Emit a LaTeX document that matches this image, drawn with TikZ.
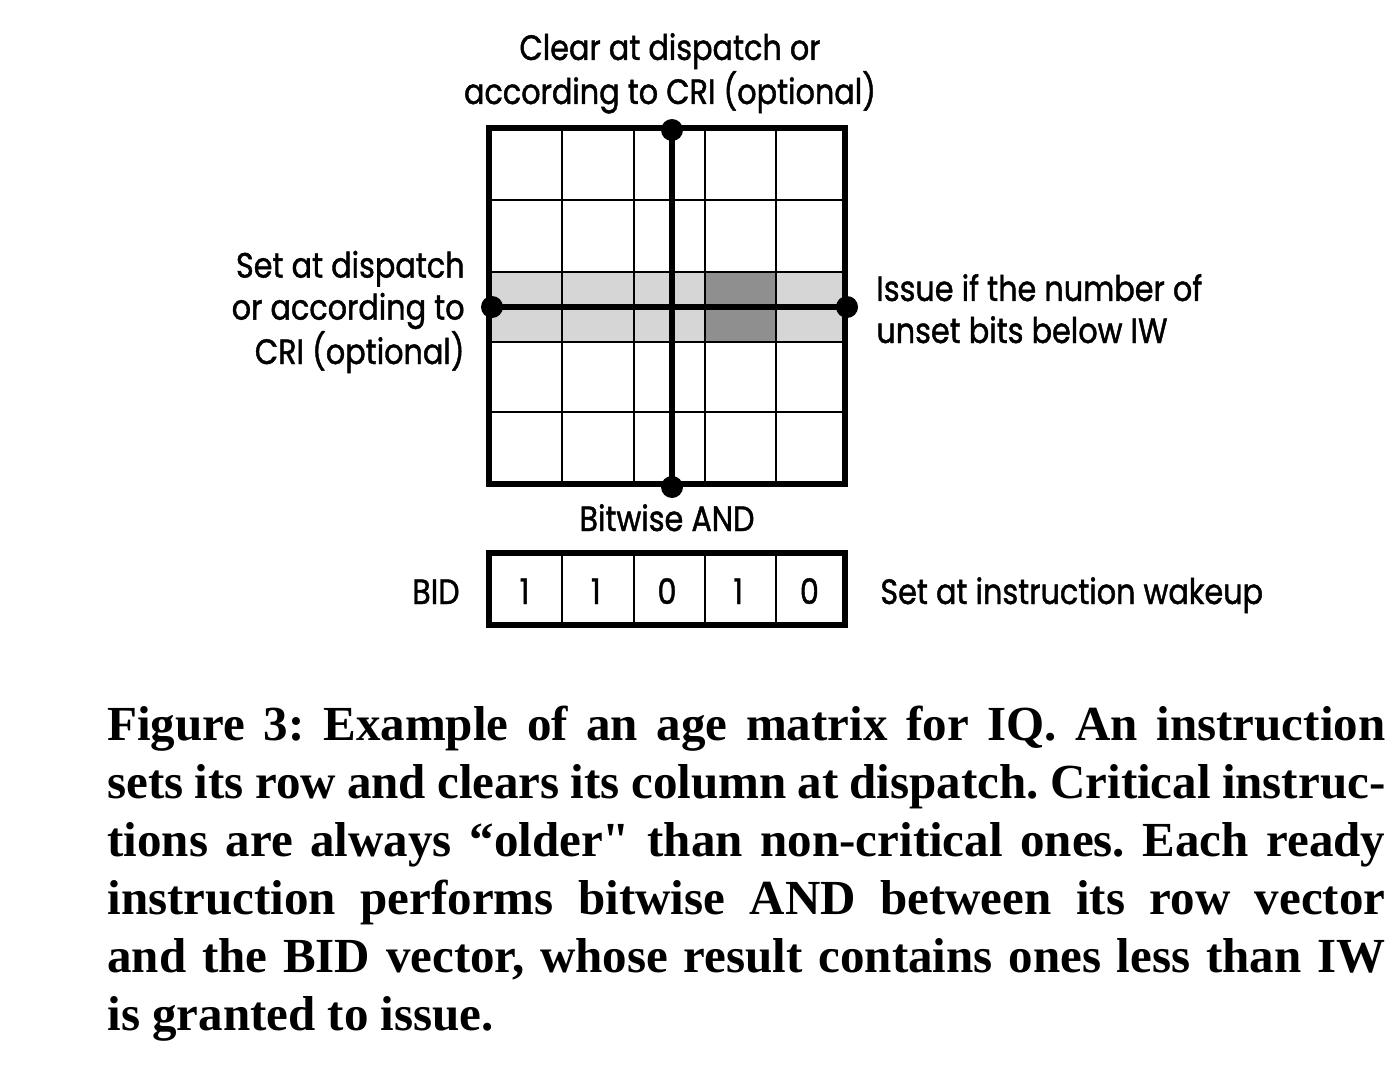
\documentclass[tikz,border=0pt]{standalone}
\usepackage{fontspec}
\setmainfont{Liberation Serif}[Ligatures=TeXOff]
\newfontfamily\lblfont[FakeStretch=0.86,FakeBold=1.2]{Poppins}
\usetikzlibrary{positioning}
\begin{document}
\begin{tikzpicture}[x=0.5pt,y=-0.5pt,
	lbl/.style={font=\lblfont\fontsize{17.6}{21}\selectfont,inner sep=0pt},
	cellline/.style={line width=1.4pt},
	frame/.style={line width=2.6pt},
	bus/.style={line width=2.6pt},
	dot/.style={circle,fill,inner sep=0pt,minimum size=11pt}]
	\useasboundingbox (0,0) rectangle (1398,1086);
	% row of the instruction
	\fill[black!16] (489,272) rectangle (845,342);
	\fill[black!44] (705,272) rectangle (776,342);
	% age matrix
	\foreach \x in {562,634,705,776} \draw[cellline] (\x,128)--(\x,484);
	\foreach \y in {200,272,342,412} \draw[cellline] (489,\y)--(845,\y);
	\draw[frame] (489,128) rectangle (845,484);
	\coordinate (coltop) at (672,130);
	\coordinate (colbot) at (672,487);
	\coordinate (rowleft) at (492,307);
	\coordinate (rowright) at (847,307);
	\draw[bus] (coltop)--(colbot);
	\draw[bus] (rowleft)--(rowright);
	\foreach \c in {coltop,colbot,rowleft,rowright} \node[dot] at (\c) {};
	\node[lbl,align=center,anchor=base] (clear) at (670,104) {Clear at dispatch or\\according to CRI (optional)};
	\node[lbl,align=right,anchor=base east] (set) at (465,364) {Set at dispatch\\or according to\\CRI (optional)};
	\node[lbl,align=left,anchor=base west] (issue) at (876,343) {Issue if the number of\\unset bits below IW};
	\node[lbl,anchor=base] (and) at (667,531) {Bitwise AND};
	% BID vector
	\foreach \x in {562,634,705,776} \draw[cellline] (\x,553)--(\x,625);
	\draw[frame] (489,553) rectangle (845,625);
	\foreach \v [count=\i] in {1,1,0,1,0}
		\node[lbl,anchor=base] (bit\i) at ({489+71.2*(\i-0.5)},604) {\v};
	\node[lbl,anchor=base east] (bid) at (460,604) {BID};
	\node[lbl,anchor=base west] (wake) at (880,604) {Set at instruction wakeup};
	% caption
	\node[anchor=base west,inner sep=0pt,text width=639pt,align=justify,
		font=\bfseries\frenchspacing\fontsize{24.5}{29}\selectfont] (cap) at (107,740)
		{Figure 3: Example of an age matrix for IQ. An instruction\linebreak
		sets its row and clears its column at dispatch. Critical instruc-\linebreak
		tions are always “older" than non-critical ones. Each ready\linebreak
		instruction performs bitwise AND between its row vector\linebreak
		and the BID vector, whose result contains ones less than IW\linebreak
		is granted to issue.};
\end{tikzpicture}
\end{document}
